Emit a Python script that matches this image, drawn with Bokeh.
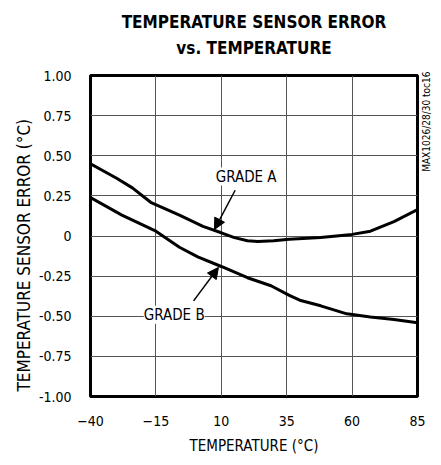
import math
from bokeh.plotting import figure
from bokeh.models import (FixedTicker, Label, Arrow, NormalHead, Range1d, Title, LinearAxis)
from bokeh.embed import file_html
from bokeh.resources import INLINE

# ---- data ----
grade_a_temp = [-40, -30, -24, -17, -6, 3, 10, 15, 20, 24, 30, 36, 48, 60, 67, 76, 85]
grade_a_err = [0.45, 0.36, 0.30, 0.21, 0.13, 0.06, 0.02, -0.01, -0.03, -0.035, -0.03, -0.02, -0.01, 0.01, 0.03, 0.09, 0.165]

grade_b_temp = [-40, -28, -15, -6, 1, 10, 20, 29, 36, 40, 48, 58, 67, 76, 85]
grade_b_err = [0.24, 0.13, 0.03, -0.07, -0.13, -0.19, -0.26, -0.31, -0.37, -0.40, -0.435, -0.485, -0.505, -0.52, -0.54]

x_ticks = [-40, -15, 10, 35, 60, 85]
y_ticks = [-1.0, -0.75, -0.5, -0.25, 0.0, 0.25, 0.5, 0.75, 1.0]
y_tick_labels = ["-1.00", "-0.75", "-0.50", "-0.25", "0", "0.25", "0.50", "0.75", "1.00"]

title_lines = ["TEMPERATURE SENSOR ERROR", "vs. TEMPERATURE"]
x_label = "TEMPERATURE (°C)"
y_label = "TEMPERATURE SENSOR ERROR (°C)"
side_note = "MAX1026/28/30 toc16"
side_note_pos = 0.40

FONT = "'Liberation Sans Narrow', 'DejaVu Sans Condensed', sans-serif"
TFONT = "'DejaVu Sans Condensed', 'Liberation Sans Narrow', sans-serif"

p = figure(width=440, height=457, output_backend="svg", toolbar_location=None,
           x_range=Range1d(-40, 85), y_range=Range1d(-1, 1),
           min_border_left=90, min_border_right=14, min_border_top=75, min_border_bottom=54)
p.title.visible = False

p.background_fill_color = "white"
p.border_fill_color = "white"
p.outline_line_color = "black"
p.outline_line_width = 3

for ax in (p.xaxis[0], p.yaxis[0]):
    ax.axis_line_color = None
    ax.major_tick_line_color = None
    ax.minor_tick_line_color = None
    ax.major_label_text_font = FONT
    ax.major_label_text_font_size = "14px"
    ax.major_label_text_color = "black"

p.xaxis.ticker = FixedTicker(ticks=x_ticks)
p.yaxis.ticker = FixedTicker(ticks=y_ticks)
p.yaxis.major_label_overrides = {t: l for t, l in zip(y_ticks, y_tick_labels)}
p.xaxis.major_label_standoff = 13
p.yaxis.major_label_standoff = 13

p.xaxis.axis_label = x_label
p.xaxis.axis_label_text_font = FONT
p.xaxis.axis_label_text_font_size = "15px"
p.xaxis.axis_label_text_font_style = "normal"
p.xaxis.axis_label_text_color = "black"
p.xaxis.axis_label_standoff = 8

p.xgrid.ticker = FixedTicker(ticks=x_ticks)
p.ygrid.ticker = FixedTicker(ticks=y_ticks)
p.xgrid.grid_line_color = "#555555"
p.ygrid.grid_line_color = "#555555"
p.xgrid.grid_line_width = 1
p.ygrid.grid_line_width = 1

# right-side note
rax = LinearAxis(ticker=FixedTicker(ticks=[side_note_pos]),
                 major_label_overrides={side_note_pos: side_note})
rax.axis_line_color = None
rax.major_tick_line_color = None
rax.minor_tick_line_color = None
rax.major_label_text_font = FONT
rax.major_label_text_font_size = "10px"
rax.major_label_text_color = "black"
rax.major_label_orientation = math.pi / 2
rax.major_label_standoff = 3
p.add_layout(rax, "right")

# y-axis label as a left title (shifted down like the reference)
p.add_layout(Title(text=y_label, align="left", offset=5, text_font=FONT,
                   text_font_size="17px", text_font_style="normal", text_color="black",
                   standoff=4), "left")

# title: second line carried by a bare top axis, first line by a Title above it
tax = LinearAxis(ticker=FixedTicker(ticks=[]), axis_label=title_lines[1])
tax.axis_line_color = None
tax.major_tick_line_color = None
tax.minor_tick_line_color = None
tax.major_tick_out = 0
tax.major_tick_in = 0
tax.major_label_standoff = 0
tax.major_label_text_font_size = "1px"
tax.axis_label_standoff = 18
tax.axis_label_text_font = TFONT
tax.axis_label_text_font_size = "17px"
tax.axis_label_text_font_style = "bold"
tax.axis_label_text_color = "black"
p.add_layout(tax, "above")

p.add_layout(Title(text=title_lines[0], align="center", vertical_align="bottom", text_font=TFONT,
                   text_font_size="17px", text_font_style="bold", text_color="black",
                   standoff=6), "above")

p.line(grade_a_temp, grade_a_err, line_color="black", line_width=3)
p.line(grade_b_temp, grade_b_err, line_color="black", line_width=3)

# annotations
p.add_layout(Label(x=19.5, y=0.37, text="GRADE A", text_font=FONT, text_font_size="15px",
                   text_color="black", text_align="center", text_baseline="middle",
                   background_fill_color="white"))
p.add_layout(Label(x=-8, y=-0.49, text="GRADE B", text_font=FONT, text_font_size="15px",
                   text_color="black", text_align="center", text_baseline="middle",
                   background_fill_color="white"))
p.add_layout(Arrow(x_start=15.3, y_start=0.285, x_end=7.4, y_end=0.041,
                   line_color="black", line_width=1.5,
                   end=NormalHead(size=11, fill_color="black", line_color="black")))
p.add_layout(Arrow(x_start=-0.6, y_start=-0.404, x_end=8.9, y_end=-0.196,
                   line_color="black", line_width=1.5,
                   end=NormalHead(size=11, fill_color="black", line_color="black")))

open("out.html", "w").write(file_html(p, INLINE))
